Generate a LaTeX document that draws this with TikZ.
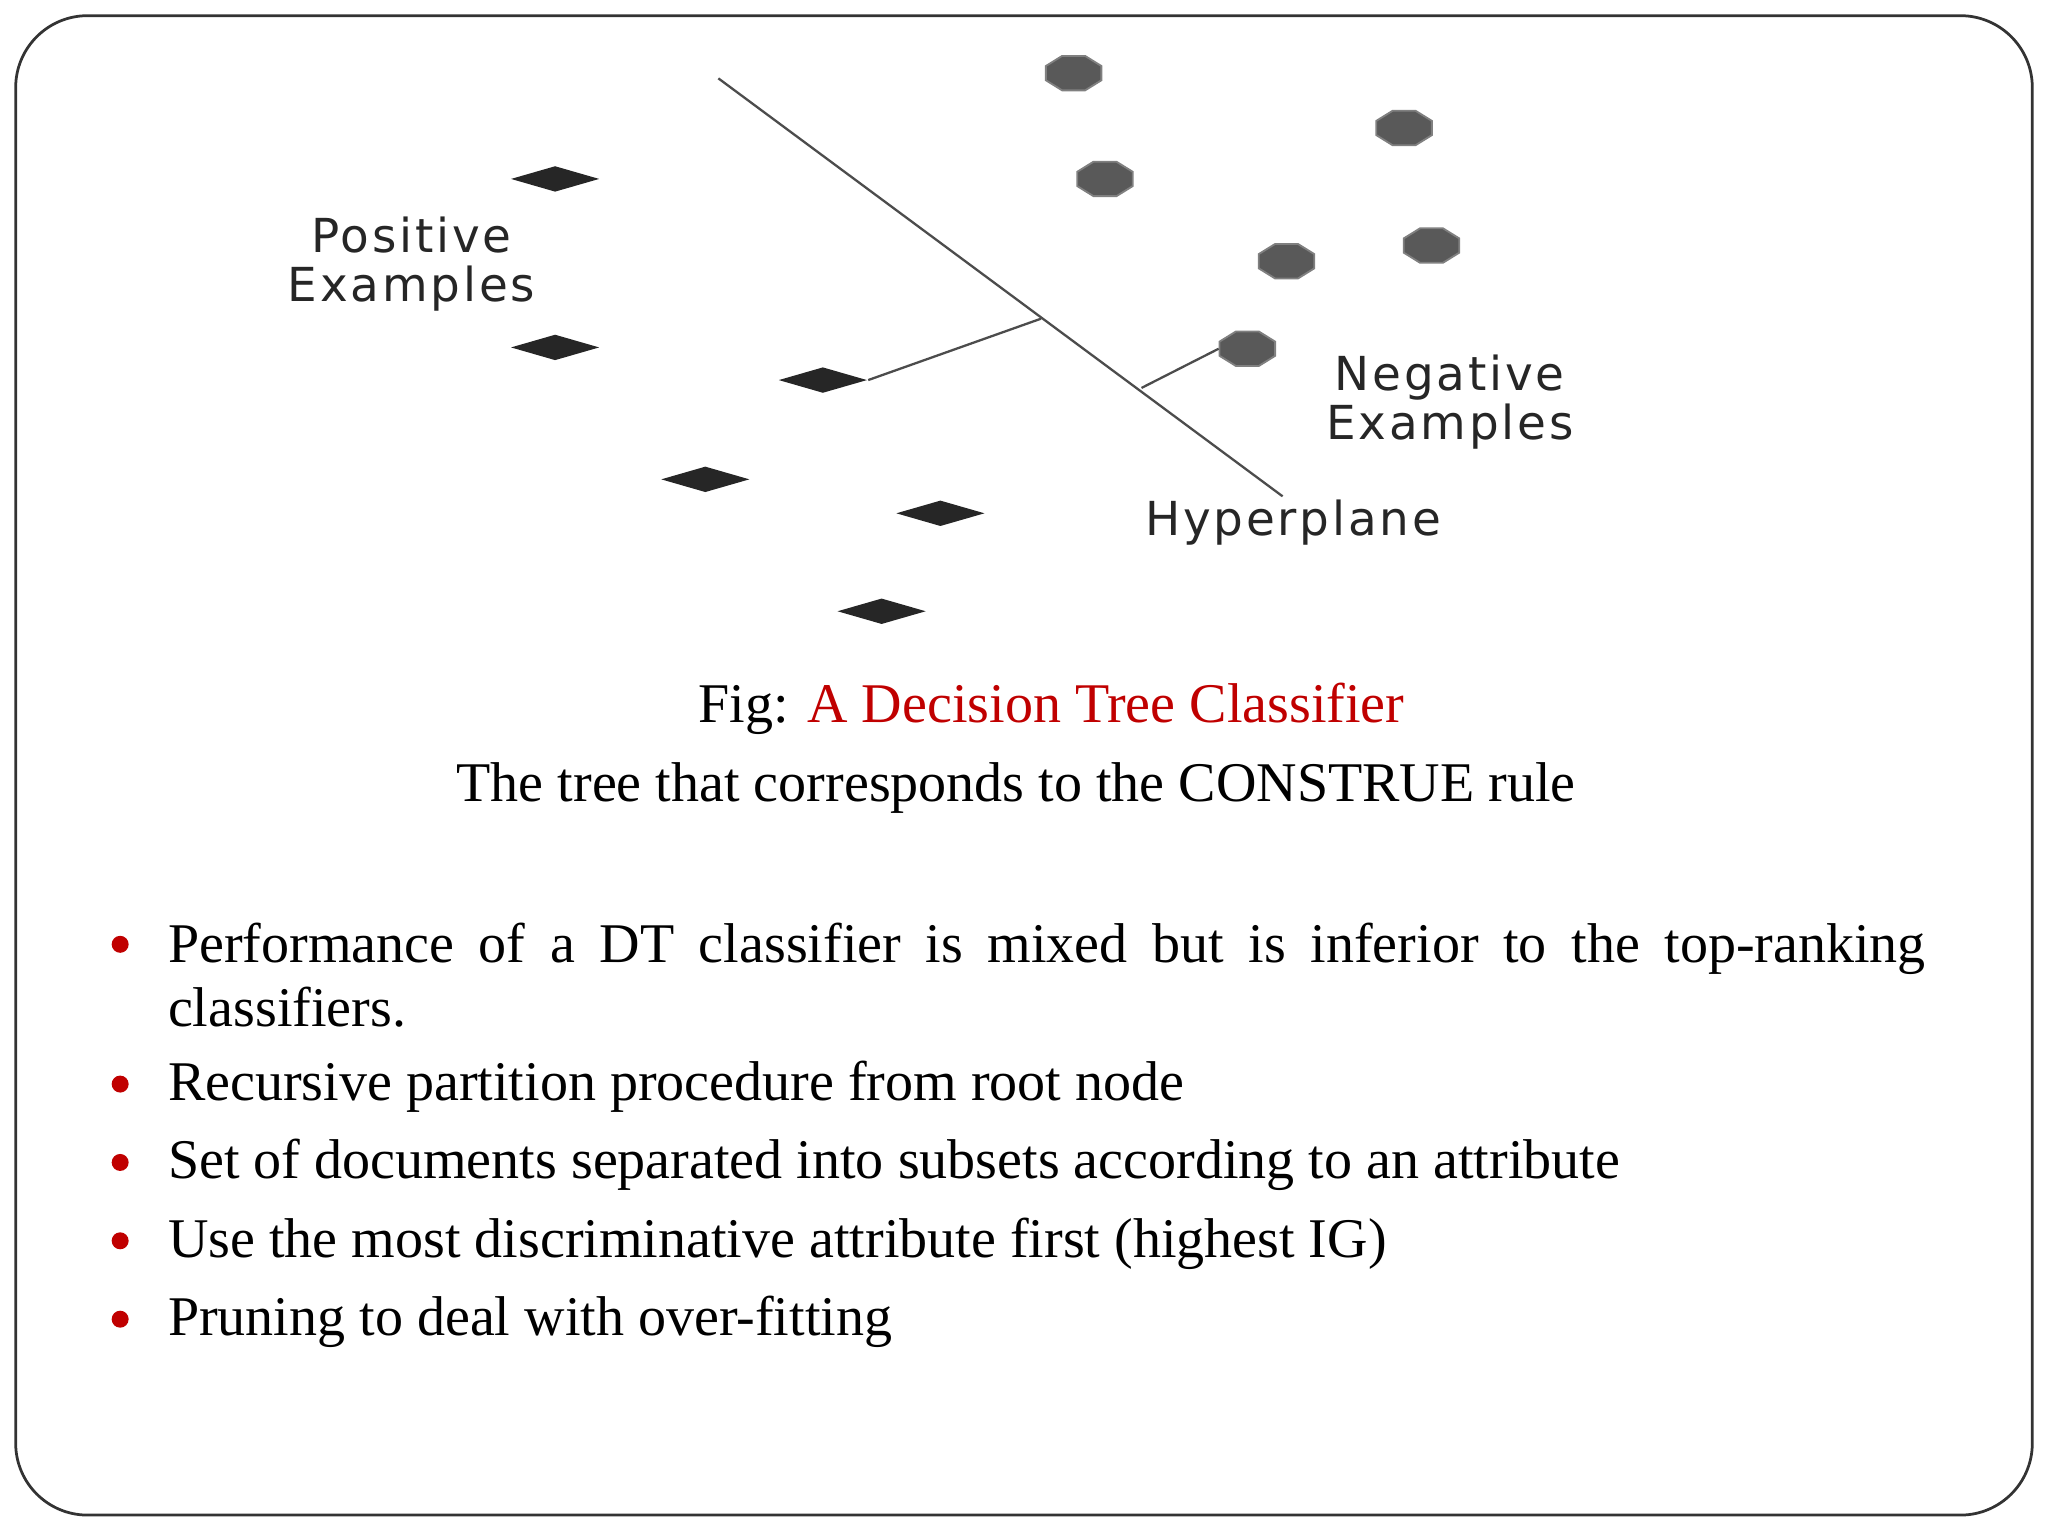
\documentclass[tikz,border=0pt]{standalone}
\usepackage{fontspec}
\setmainfont{Liberation Serif}
\newfontfamily\lblfont[LetterSpace=6]{DejaVu Sans}
\usetikzlibrary{shapes.geometric}
\definecolor{fred}{RGB}{192,0,0}
\begin{document}
\begin{tikzpicture}[x=0.01cm,y=-0.01cm,
 posd/.style={diamond,fill=black!85,inner sep=0pt,minimum width=0.68cm,minimum height=0.2cm},
 negd/.style={regular polygon,regular polygon sides=8,fill=black!65,draw=black!50,inner sep=0pt,minimum size=0.46cm,yscale=0.62},
 lbl/.style={font=\lblfont\fontsize{10.2pt}{10.6pt}\selectfont,align=center,text=black!85},
 body/.style={font=\fontsize{12.2pt}{14pt}\selectfont},
 bul/.style={circle,fill=fred,inner sep=0pt,minimum size=0.13cm}]
\useasboundingbox (0,0) rectangle (1568,1176);
\draw[black!80,line width=0.6pt,rounded corners=0.55cm] (12,12) rectangle (1556,1160);
\foreach \n/\x/\y in {p1/425/137,p2/425/266,p3/630/291,p4/540/367,p5/720/393,p6/675/468}
  \node[posd] (\n) at (\x,\y) {};
\foreach \n/\x/\y in {n1/822/56,n2/1075/98,n3/846/137,n4/985/200,n5/1096/188,n6/955/267}
  \node[negd] (\n) at (\x,\y) {};
\coordinate (h1) at (550,60); \coordinate (h2) at (982,380);
\coordinate (m1) at (797,244); \coordinate (m2) at (874,297);
\draw[black!70,line width=0.5pt] (h1) -- (h2);
\draw[black!70,line width=0.5pt] (p3.east) -- (m1);
\draw[black!70,line width=0.5pt] (m2) -- (n6.west);
\node[lbl] (pl) at (315,202) {Positive\\Examples};
\node[lbl] (nl) at (1110,308) {Negative\\Examples};
\node[lbl] (hl) at (990,400) {Hyperplane};
\node[body] (cap) at (805,543) {Fig: \textcolor{fred}{A Decision Tree Classifier}};
\node[body] (cap2) at (778,603) {The tree that corresponds to the CONSTRUE rule};
\node[body,anchor=north west,text width=13.45cm,align=justify,inner sep=0pt] (b1) at (128,706) {Performance of a DT classifier is mixed but is inferior to the top-ranking \mbox{classifiers.}};
\node[body,anchor=west,inner sep=0pt] (b2) at (128,832) {Recursive partition procedure from root node};
\node[body,anchor=west,inner sep=0pt] (b3) at (128,892) {Set of documents separated into subsets according to an attribute};
\node[body,anchor=west,inner sep=0pt] (b4) at (128,952) {Use the most discriminative attribute first (highest IG)};
\node[body,anchor=west,inner sep=0pt] (b5) at (128,1012) {Pruning to deal with over-fitting};
\foreach \y in {723,830,890,950,1010} \node[bul] at (92,\y) {};
\end{tikzpicture}
\end{document}
